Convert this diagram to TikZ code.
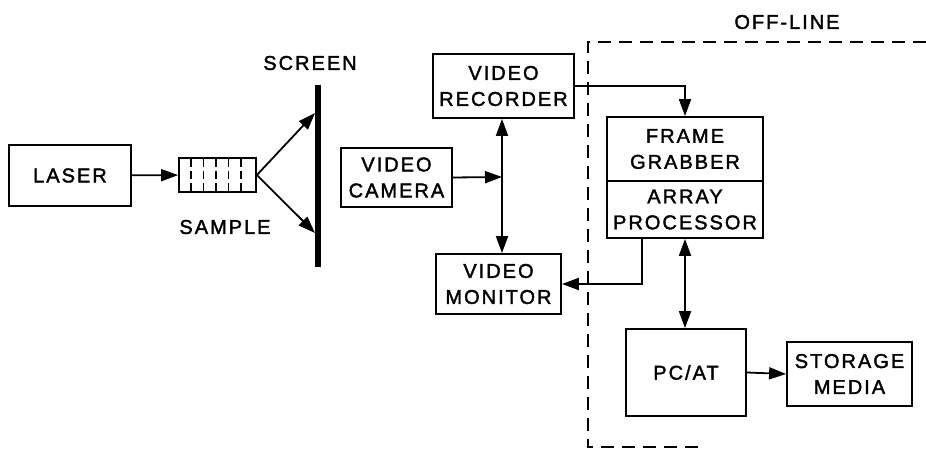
\documentclass[tikz,border=0pt]{standalone}
\usepackage{fontspec}
\setmainfont{Liberation Sans}[LetterSpace=10,FakeBold=1.8]
\usepackage{tikz}
\usetikzlibrary{positioning,arrows.meta,calc}
\tikzset{
  block/.style={draw=black,line width=1.8pt,align=center,inner sep=0pt,
    font=\fontsize{20}{26}\selectfont},
  arrow/.style={-{Triangle[length=17pt,width=12pt]},line width=1.8pt},
  dblarrow/.style={{Triangle[length=17pt,width=12pt]}-{Triangle[length=17pt,width=12pt]},
    line width=1.8pt},
  caption/.style={font=\fontsize{20}{26}\selectfont}
}

\begin{document}
\begin{tikzpicture}[x=1pt,y=1pt]
  \useasboundingbox (0,0) rectangle (926,449);

  % optical bench
  \node[block, minimum width=122pt, minimum height=61pt] (laser) at (70,273.5) {LASER};
  \node[block, minimum width=77pt, minimum height=34pt] (sample) at (217.5,274) {};
  \foreach \i in {0,...,4} {
    \draw[line width=1.8pt, dash pattern=on 8pt off 4pt] ({191+12.5*\i},258) -- ++(0,32);
  }
  \node[caption] (samplelbl) at (225,222) {SAMPLE};

  \coordinate (scrtop) at (318,364);
  \coordinate (scrbot) at (318,182);
  \draw[line width=6pt] (scrbot) -- (scrtop);
  \node[caption] (screenlbl) at (310,386) {SCREEN};
  \coordinate (hitup) at (315,336);
  \coordinate (hitdown) at (315,216);

  \draw[arrow] (laser) -- (sample);
  \draw[arrow] (sample.east) -- (hitup);
  \draw[arrow] (sample.east) -- (hitdown);

  % video chain
  \node[block, minimum width=141pt, minimum height=64pt] (recorder) at (503.5,363) {VIDEO\\RECORDER};
  \node[block, minimum width=111pt, minimum height=59pt] (camera) at (396.5,271.5) {VIDEO\\CAMERA};
  \node[block, minimum width=125pt, minimum height=60pt] (monitor) at (498.5,165) {VIDEO\\MONITOR};
  \coordinate (junction) at (502,272);

  \draw[arrow] (camera.east) -- (junction);
  \draw[dblarrow] (recorder.south -| junction) -- (monitor.north -| junction);

  % off-line part
  \draw[line width=1.6pt, dash pattern=on 13pt off 8pt] (926,407) -- (588,407) -- (588,2) -- (700,2);
  \node[caption] (offline) at (787,427) {OFF-LINE};

  \node[block, minimum width=156pt, minimum height=64pt] (grabber) at (685,300) {FRAME\\GRABBER};
  \node[block, minimum width=156pt, minimum height=57pt, anchor=north] (array)
    at ([yshift=1.8pt]grabber.south) {ARRAY\\PROCESSOR};
  \node[block, minimum width=120pt, minimum height=87pt] (pc) at (686,76.5) {PC/AT};
  \node[block, minimum width=125pt, minimum height=64pt] (storage) at (849.5,75) {STORAGE\\MEDIA};

  \draw[arrow] (recorder.east) -| (grabber.north);
  \draw[arrow] ([xshift=-43pt]array.south) |- (monitor.east);
  \draw[dblarrow] (array.south) -- (array.south |- pc.north);
  \draw[arrow] (pc.east) -- (storage.west);
\end{tikzpicture}
\end{document}
